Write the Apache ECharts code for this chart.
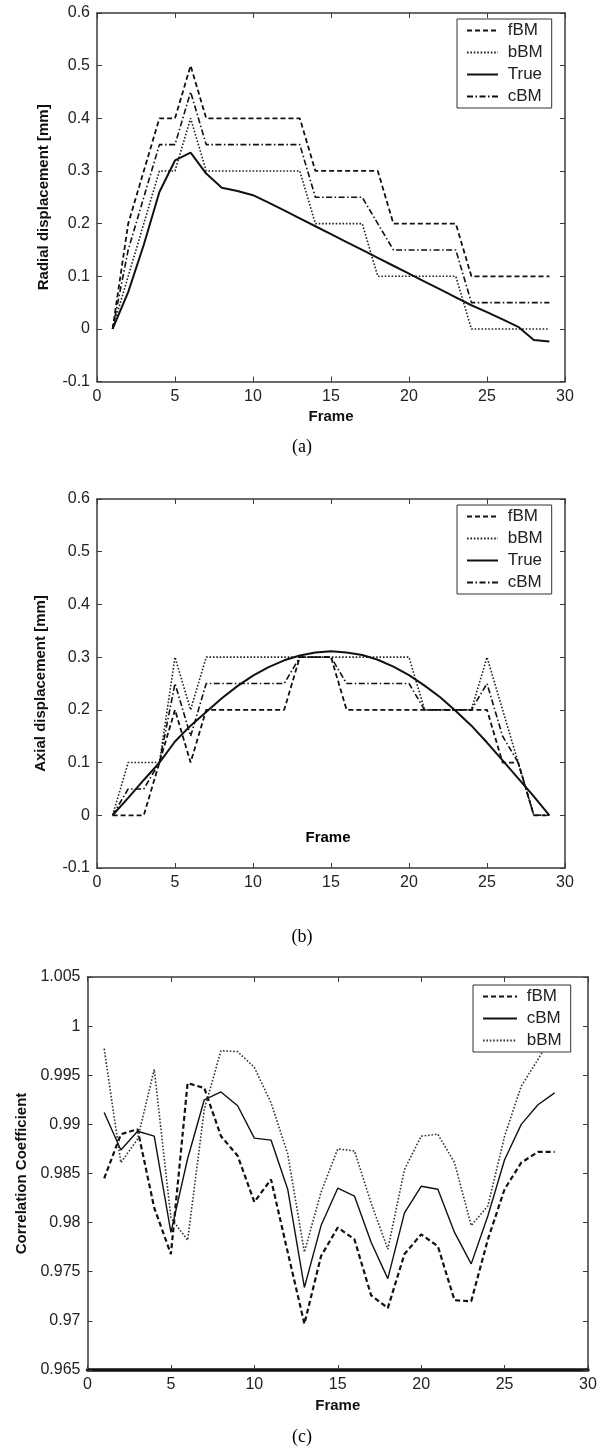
<!DOCTYPE html>
<html>
<head>
<meta charset="utf-8">
<title>Block matching displacement / correlation</title>
<script src="https://cdn.jsdelivr.net/npm/echarts@6/dist/echarts.min.js"></script>
<style>
    body { margin: 0; background: #fff; }
    .panel { position: absolute; left: 0; width: 604px; }
    #chartA { top: 0; height: 460px; }
    #chartB { top: 460px; height: 490px; }
    #chartC { top: 950px; height: 502px; }
</style>
</head>
<body>
<div id="chartA" class="panel"></div>
<div id="chartB" class="panel"></div>
<div id="chartC" class="panel"></div>
<script>
// frame numbers (x axis)
var framesAB = [1, 2, 3, 4, 5, 6, 7, 8, 9, 10, 11, 12, 13, 14, 15, 16, 17, 18, 19, 20, 21, 22, 23, 24, 25, 26, 27, 28, 29];
var framesC = [1, 2, 3, 4, 5, 6, 7, 8, 9, 10, 11, 12, 13, 14, 15, 16, 17, 18, 19, 20, 21, 22, 23, 24, 25, 26, 27, 28];

// (a) radial displacement [mm]
var radialFbm = [0, 0.2, 0.3, 0.4, 0.4, 0.5, 0.4, 0.4, 0.4, 0.4, 0.4, 0.4, 0.4, 0.3, 0.3, 0.3, 0.3, 0.3, 0.2, 0.2, 0.2, 0.2, 0.2, 0.1, 0.1, 0.1, 0.1, 0.1, 0.1];
var radialBbm = [0, 0.1, 0.2, 0.3, 0.3, 0.4, 0.3, 0.3, 0.3, 0.3, 0.3, 0.3, 0.3, 0.2, 0.2, 0.2, 0.2, 0.1, 0.1, 0.1, 0.1, 0.1, 0.1, 0, 0, 0, 0, 0, 0];
var radialTrue = [0, 0.07, 0.16, 0.26, 0.32, 0.335, 0.295, 0.268, 0.262, 0.254, 0.24, 0.225, 0.21, 0.195, 0.18, 0.165, 0.15, 0.135, 0.12, 0.105, 0.09, 0.075, 0.06, 0.045, 0.032, 0.018, 0.004, -0.021, -0.024];
var radialCbm = [0, 0.15, 0.25, 0.35, 0.35, 0.45, 0.35, 0.35, 0.35, 0.35, 0.35, 0.35, 0.35, 0.25, 0.25, 0.25, 0.25, 0.2, 0.15, 0.15, 0.15, 0.15, 0.15, 0.05, 0.05, 0.05, 0.05, 0.05, 0.05];

// (b) axial displacement [mm]
var axialFbm = [0, 0, 0, 0.1, 0.2, 0.1, 0.2, 0.2, 0.2, 0.2, 0.2, 0.2, 0.3, 0.3, 0.3, 0.2, 0.2, 0.2, 0.2, 0.2, 0.2, 0.2, 0.2, 0.2, 0.2, 0.1, 0.1, 0, 0];
var axialBbm = [0, 0.1, 0.1, 0.1, 0.3, 0.2, 0.3, 0.3, 0.3, 0.3, 0.3, 0.3, 0.3, 0.3, 0.3, 0.3, 0.3, 0.3, 0.3, 0.3, 0.2, 0.2, 0.2, 0.2, 0.3, 0.2, 0.1, 0, 0];
var axialTrue = [0, 0.033, 0.067, 0.1, 0.14, 0.17, 0.196, 0.222, 0.245, 0.265, 0.281, 0.294, 0.303, 0.309, 0.311, 0.309, 0.304, 0.295, 0.282, 0.266, 0.246, 0.224, 0.198, 0.17, 0.138, 0.104, 0.07, 0.036, 0];
var axialCbm = [0, 0.05, 0.05, 0.1, 0.25, 0.15, 0.25, 0.25, 0.25, 0.25, 0.25, 0.25, 0.3, 0.3, 0.3, 0.25, 0.25, 0.25, 0.25, 0.25, 0.2, 0.2, 0.2, 0.2, 0.25, 0.15, 0.1, 0, 0];

// (c) correlation coefficient
var corrFbm = [0.9845, 0.989, 0.9895, 0.9815, 0.9768, 0.9942, 0.9937, 0.9888, 0.9868, 0.9821, 0.9844, 0.977, 0.9697, 0.9766, 0.9795, 0.9783, 0.9726, 0.9713, 0.9768, 0.9788, 0.9776, 0.9721, 0.972, 0.9783, 0.9834, 0.9861, 0.9872, 0.9872];
var corrCbm = [0.9912, 0.9874, 0.9893, 0.9888, 0.979, 0.9865, 0.9925, 0.9933, 0.9919, 0.9886, 0.9884, 0.9834, 0.9734, 0.9797, 0.9835, 0.9827, 0.978, 0.9743, 0.981, 0.9837, 0.9834, 0.979, 0.9758, 0.9807, 0.9864, 0.99, 0.992, 0.9932];
var corrBbm = [0.9977, 0.9861, 0.9885, 0.9956, 0.9805, 0.9782, 0.9915, 0.9975, 0.9974, 0.9958, 0.9922, 0.987, 0.977, 0.9831, 0.9875, 0.9873, 0.982, 0.9773, 0.9854, 0.9888, 0.989, 0.9861, 0.9797, 0.9817, 0.9888, 0.9939, 0.9966, 0.9995];

// tick labels
var frameTicks = [0, 5, 10, 15, 20, 25, 30];
var displacementTicks = [-0.1, 0, 0.1, 0.2, 0.3, 0.4, 0.5, 0.6];
var corrTicks = [0.965, 0.97, 0.975, 0.98, 0.985, 0.99, 0.995, 1, 1.005];

var AXIS_COLOR = '#3a3a3a';
var FONT = '"Liberation Sans", Arial, sans-serif';
var DASHED = [5, 3];
var DOTTED = [1.6, 1.8];
var DASH_DOT = [6, 2.5, 1.5, 2.5];

function pairs(xs, ys) {
    return xs.map(function (x, i) { return [x, ys[i]]; });
}

function step(ticks) {
    return Math.round((ticks[1] - ticks[0]) * 1e6) / 1e6;
}

function lineSeries(name, xs, ys, dash, width, color) {
    return {
        name: name,
        type: 'line',
        data: pairs(xs, ys),
        symbol: 'none',
        xAxisIndex: 0,
        yAxisIndex: 0,
        lineStyle: { type: dash, width: width, color: color },
        itemStyle: { color: color },
        z: 3
    };
}

function baseAxis(ticks, position, lineWidth) {
    return {
        type: 'value',
        position: position,
        min: ticks[0],
        max: ticks[ticks.length - 1],
        interval: step(ticks),
        splitLine: { show: false },
        axisLine: { show: true, onZero: false, lineStyle: { color: AXIS_COLOR, width: lineWidth || 1.5 } },
        axisTick: { show: true, inside: true, length: 5, lineStyle: { color: AXIS_COLOR, width: 1 } },
        axisLabel: { show: false }
    };
}

function generateOption(cfg) {
    var xBottom = baseAxis(frameTicks, 'bottom', cfg.bottomWidth);
    xBottom.axisLabel = { show: true, color: '#222', fontSize: 16, fontFamily: FONT, margin: 7 };
    if (cfg.xName) {
        xBottom.name = 'Frame';
        xBottom.nameLocation = 'middle';
        xBottom.nameGap = 28;
        xBottom.nameTextStyle = { fontWeight: 'bold', fontSize: 15, color: '#111', fontFamily: FONT };
    }
    var xTop = baseAxis(frameTicks, 'top');

    var yLeft = baseAxis(cfg.yTicks, 'left');
    yLeft.axisLabel = { show: true, color: '#222', fontSize: 16, fontFamily: FONT, margin: 7 };
    yLeft.name = cfg.yName;
    yLeft.nameLocation = 'middle';
    yLeft.nameRotate = 90;
    yLeft.nameGap = cfg.yNameGap;
    yLeft.nameTextStyle = { fontWeight: 'bold', fontSize: 15, color: '#111', fontFamily: FONT };
    var yRight = baseAxis(cfg.yTicks, 'right');

    return {
        animation: false,
        backgroundColor: '#fff',
        grid: { left: cfg.grid[0], top: cfg.grid[1], width: cfg.grid[2], height: cfg.grid[3] },
        xAxis: [xBottom, xTop],
        yAxis: [yLeft, yRight],
        legend: {
            orient: 'vertical',
            left: cfg.legend[0],
            top: cfg.legend[1],
            data: cfg.series.map(function (s) { return s.name; }),
            itemWidth: cfg.legend[2],
            itemHeight: 14,
            itemGap: 5,
            padding: [3, 9, 3, 9],
            borderColor: '#333',
            borderWidth: 1,
            backgroundColor: '#fff',
            selectedMode: false,
            // line only, no marker in the sample
            itemStyle: { color: 'rgba(0,0,0,0)', borderWidth: 0, opacity: 0 },
            formatter: function (name) { return ' ' + name; },
            textStyle: { fontSize: 17, lineHeight: 15, color: '#222', fontFamily: FONT }
        },
        graphic: cfg.texts.map(function (t) {
            return {
                type: 'text',
                x: t.x,
                y: t.y,
                style: { text: t.text, font: t.font, fill: '#000', align: 'center', verticalAlign: 'middle' }
            };
        }),
        series: cfg.series
    };
}

var optionA = generateOption({
    grid: [97, 13, 468, 368.6],
    yTicks: displacementTicks,
    yName: 'Radial displacement [mm]',
    yNameGap: 45,
    xName: true,
    legend: [457, 19, 31],
    texts: [{ text: '(a)', x: 302, y: 447, font: '18px "Liberation Serif", "Times New Roman", serif' }],
    series: [
        lineSeries('fBM', framesAB, radialFbm, DASHED, 1.8, '#111'),
        lineSeries('bBM', framesAB, radialBbm, DOTTED, 1.6, '#222'),
        lineSeries('True', framesAB, radialTrue, 'solid', 2, '#111'),
        lineSeries('cBM', framesAB, radialCbm, DASH_DOT, 1.6, '#111')
    ]
});

var optionB = generateOption({
    grid: [97, 39, 468, 369],
    yTicks: displacementTicks,
    yName: 'Axial displacement [mm]',
    yNameGap: 49,
    xName: false,
    legend: [457, 45, 31],
    texts: [
        { text: 'Frame', x: 328, y: 378, font: 'bold 15px "Liberation Sans", Arial, sans-serif' },
        { text: '(b)', x: 302, y: 477, font: '18px "Liberation Serif", "Times New Roman", serif' }
    ],
    series: [
        lineSeries('fBM', framesAB, axialFbm, DASHED, 1.8, '#111'),
        lineSeries('bBM', framesAB, axialBbm, DOTTED, 1.6, '#222'),
        lineSeries('True', framesAB, axialTrue, 'solid', 2, '#111'),
        lineSeries('cBM', framesAB, axialCbm, DASH_DOT, 1.6, '#111')
    ]
});

var optionC = generateOption({
    grid: [87.5, 27, 500.5, 393],
    yTicks: corrTicks,
    yName: 'Correlation Coefficient',
    yNameGap: 58,
    xName: true,
    bottomWidth: 3.5,
    legend: [473, 35, 34],
    texts: [{ text: '(c)', x: 302, y: 487, font: '18px "Liberation Serif", "Times New Roman", serif' }],
    series: [
        lineSeries('fBM', framesC, corrFbm, DASHED, 2.2, '#111'),
        lineSeries('cBM', framesC, corrCbm, 'solid', 1.4, '#111'),
        lineSeries('bBM', framesC, corrBbm, DOTTED, 1.6, '#333')
    ]
});
optionC.xAxis[0].axisLine.lineStyle.color = '#111';

echarts.init(document.getElementById('chartA')).setOption(optionA);
echarts.init(document.getElementById('chartB')).setOption(optionB);
echarts.init(document.getElementById('chartC')).setOption(optionC);
</script>
</body>
</html>
